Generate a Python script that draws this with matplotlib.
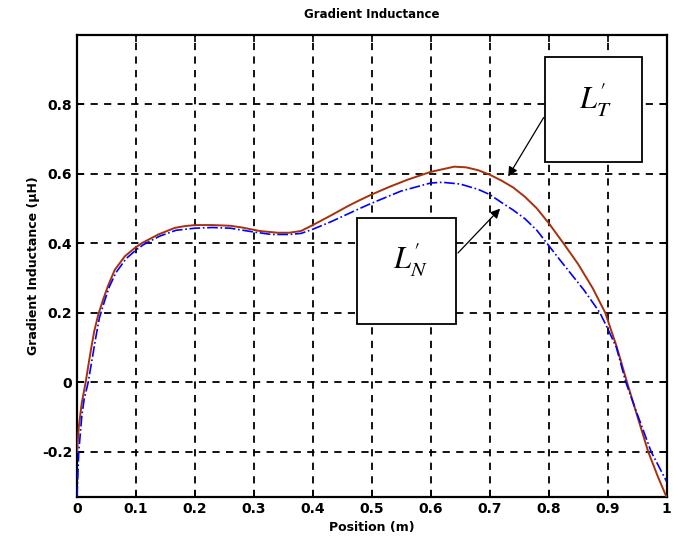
import matplotlib.pyplot as plt
from matplotlib.patches import Rectangle

# position (m) and gradient inductance (uH)
x_t = [0, 0.003, 0.008, 0.0147, 0.022, 0.029, 0.036, 0.045, 0.053, 0.064,
       0.081, 0.098, 0.11, 0.138, 0.166, 0.183, 0.2, 0.23, 0.26, 0.28, 0.31,
       0.34, 0.36, 0.38, 0.4, 0.43, 0.46, 0.48, 0.5, 0.53, 0.56, 0.6, 0.64,
       0.66, 0.68, 0.7, 0.72, 0.74, 0.76, 0.78, 0.8, 0.825, 0.85, 0.875,
       0.896, 0.915, 0.933, 0.95, 0.969, 0.985, 1.0]
y_t = [-0.2, -0.13, -0.06, 0.0, 0.077, 0.145, 0.194, 0.241, 0.279, 0.323,
       0.362, 0.386, 0.4, 0.425, 0.444, 0.449, 0.452, 0.452, 0.45, 0.445,
       0.435, 0.43, 0.43, 0.435, 0.452, 0.479, 0.507, 0.524, 0.54, 0.562,
       0.582, 0.605, 0.62, 0.618, 0.61, 0.597, 0.58, 0.56, 0.533, 0.5,
       0.458, 0.4, 0.34, 0.27, 0.2, 0.105, 0.0, -0.095, -0.2, -0.27, -0.33]

x_n = [0, 0.003, 0.008, 0.012, 0.019, 0.026, 0.032, 0.038, 0.047, 0.055,
       0.066, 0.083, 0.1, 0.112, 0.14, 0.168, 0.2, 0.23, 0.26, 0.3, 0.33,
       0.36, 0.38, 0.4, 0.43, 0.48, 0.5, 0.55, 0.6, 0.62, 0.65, 0.68, 0.7,
       0.72, 0.74, 0.76, 0.78, 0.797, 0.82, 0.86, 0.887, 0.9, 0.915, 0.931,
       0.95, 0.974, 1.0]
y_n = [-0.33, -0.2, -0.1, -0.05, 0.0, 0.07, 0.13, 0.185, 0.235, 0.275,
       0.315, 0.355, 0.38, 0.395, 0.42, 0.437, 0.443, 0.445, 0.443, 0.432,
       0.425, 0.425, 0.428, 0.44, 0.461, 0.5, 0.515, 0.55, 0.573, 0.575,
       0.57, 0.555, 0.54, 0.517, 0.495, 0.47, 0.437, 0.4, 0.35, 0.265, 0.2,
       0.155, 0.1, 0.0, -0.09, -0.2, -0.285]

x_ticks = [0, 0.1, 0.2, 0.3, 0.4, 0.5, 0.6, 0.7, 0.8, 0.9, 1]
x_labels = ["0", "0.1", "0.2", "0.3", "0.4", "0.5", "0.6", "0.7", "0.8", "0.9", "1"]
y_ticks = [-0.2, 0, 0.2, 0.4, 0.6, 0.8]
y_labels = ["-0.2", "0", "0.2", "0.4", "0.6", "0.8"]

plt.rcParams["mathtext.fontset"] = "stix"

fig = plt.figure(figsize=(6.79, 5.48), dpi=100)
ax = fig.add_axes([0.1134, 0.0931, 0.8682, 0.8439])

ax.plot(x_t, y_t, color="#a8300c", lw=1.4, zorder=3)
ax.plot(x_n, y_n, color="#0000ff", lw=1.2, linestyle="-.", zorder=3)

ax.set_xlim(0, 1)
ax.set_ylim(-0.33, 1.0)
ax.set_xticks(x_ticks)
ax.set_xticklabels(x_labels)
ax.set_yticks(y_ticks)
ax.set_yticklabels(y_labels)
ax.tick_params(direction="in", top=True, right=True, length=5, width=1.2,
               labelsize=10)
for lab in ax.get_xticklabels() + ax.get_yticklabels():
    lab.set_fontweight("bold")
for s in ax.spines.values():
    s.set_linewidth(1.6)

ax.grid(True, color="k", linestyle=(0, (4, 3.5)), lw=1.3)
ax.set_axisbelow(True)

ax.set_title("Gradient Inductance", fontsize=8.5, fontweight="bold", pad=12)
ax.set_xlabel("Position (m)", fontsize=9, fontweight="bold", labelpad=4)
ax.set_ylabel("Gradient Inductance (\u00b5H)", fontsize=9, fontweight="bold",
              labelpad=1)

# label boxes with arrows
ax.add_patch(Rectangle((0.794, 0.633), 0.164, 0.302, fill=True, fc="white",
                       ec="k", lw=1.3, zorder=4, clip_on=False))
ax.text(0.88, 0.81, r"$L^{\prime}_{T}$", fontsize=22, ha="center",
        va="center", zorder=5)
ax.annotate("", xy=(0.729, 0.585), xytext=(0.794, 0.768),
            arrowprops=dict(arrowstyle="-|>", color="k", lw=0.9,
                            mutation_scale=14), zorder=5)

ax.add_patch(Rectangle((0.475, 0.168), 0.168, 0.304, fill=True, fc="white",
                       ec="k", lw=1.3, zorder=4, clip_on=False))
ax.text(0.565, 0.35, r"$L^{\prime}_{N}$", fontsize=22, ha="center",
        va="center", zorder=5)
ax.annotate("", xy=(0.721, 0.505), xytext=(0.643, 0.366),
            arrowprops=dict(arrowstyle="-|>", color="k", lw=0.9,
                            mutation_scale=14), zorder=5)

fig.savefig("out.png", dpi=100)
